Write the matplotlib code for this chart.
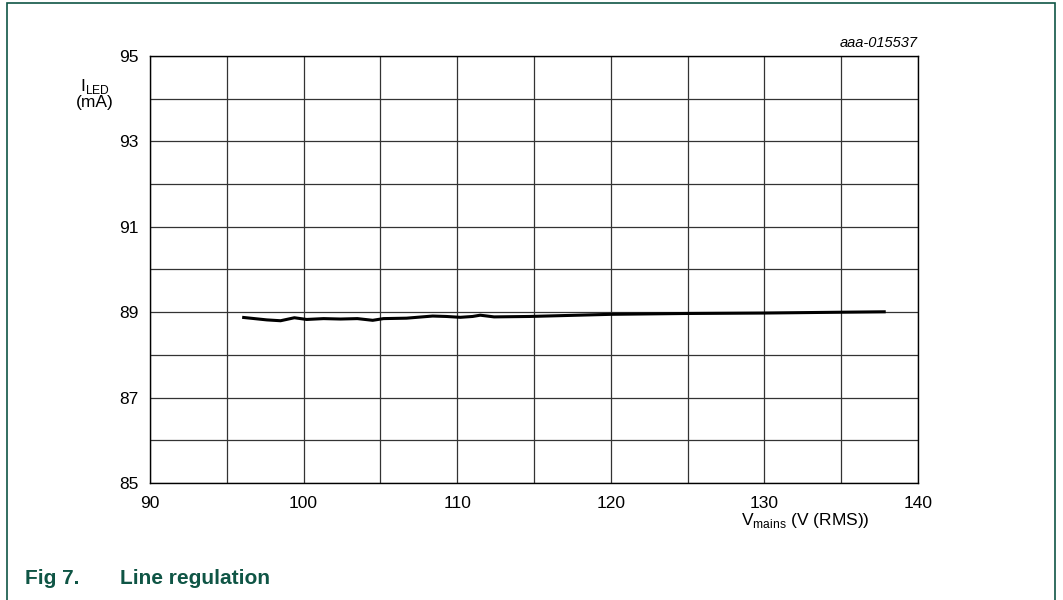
import matplotlib
matplotlib.use("Agg")
import matplotlib.pyplot as plt
from matplotlib.patches import Rectangle

plt.rcParams['font.family'] = ['Liberation Sans', 'DejaVu Sans']

# measured LED current vs mains voltage
v_mains = [96.0, 97.6, 98.5, 99.4, 100.2, 101.3, 102.4, 103.5, 104.5, 105.2,
           106.7, 108.4, 109.3, 110.2, 111.0, 111.5, 112.4, 114.7, 120.0,
           124.9, 129.9, 135.1, 137.9]
i_led = [88.88, 88.82, 88.80, 88.87, 88.83, 88.85, 88.84, 88.85, 88.81, 88.85,
         88.86, 88.91, 88.90, 88.88, 88.90, 88.93, 88.89, 88.90, 88.95,
         88.97, 88.98, 89.00, 89.01]

x_ticks = [90, 100, 110, 120, 130, 140]
y_ticks = [85, 87, 89, 91, 93, 95]

green = '#0f5545'

fig = plt.figure(figsize=(10.63, 6), dpi=100)
ax = fig.add_axes([150 / 1063, 1 - 483 / 600, 768 / 1063, 427 / 600])

ax.plot(v_mains, i_led, color='black', lw=2.2, solid_capstyle='butt')

ax.set_xlim(90, 140)
ax.set_ylim(85, 95)
ax.set_xticks(x_ticks)
ax.set_yticks(y_ticks)
ax.set_xticks(range(90, 141, 5), minor=True)
ax.set_yticks(range(85, 96), minor=True)
ax.grid(True, which='both', color='#333333', lw=0.9)
ax.tick_params(which='both', length=0, labelsize=12.5)
ax.tick_params(axis='x', pad=9)
ax.tick_params(axis='y', pad=8)
for s in ax.spines.values():
    s.set_color('black')
    s.set_linewidth(1.0)

fig.text(95 / 1063, 1 - 87 / 600, r'I$_\mathregular{LED}$', ha='center', va='center', fontsize=12.5)
fig.text(95 / 1063, 1 - 103 / 600, '(mA)', ha='center', va='center', fontsize=12.5)
fig.text(805 / 1063, 1 - 520 / 600, r'V$_\mathregular{mains}$ (V (RMS))', ha='center', va='center', fontsize=12.5)
fig.text(918 / 1063, 1 - 43 / 600, 'aaa-015537', ha='right', va='center', fontsize=10.5, style='italic')

fig.text(25 / 1063, 1 - 578 / 600, 'Fig 7.', ha='left', va='center', fontsize=15, fontweight='bold', color=green)
fig.text(120 / 1063, 1 - 578 / 600, 'Line regulation', ha='left', va='center', fontsize=15, fontweight='bold', color=green)

# outer frame
fig.add_artist(Rectangle((7 / 1063, -0.05), 1048 / 1063, 1.05 - 3 / 600, transform=fig.transFigure,
                         fill=False, edgecolor=green, lw=1.2))

fig.savefig('out.png', dpi=100)
